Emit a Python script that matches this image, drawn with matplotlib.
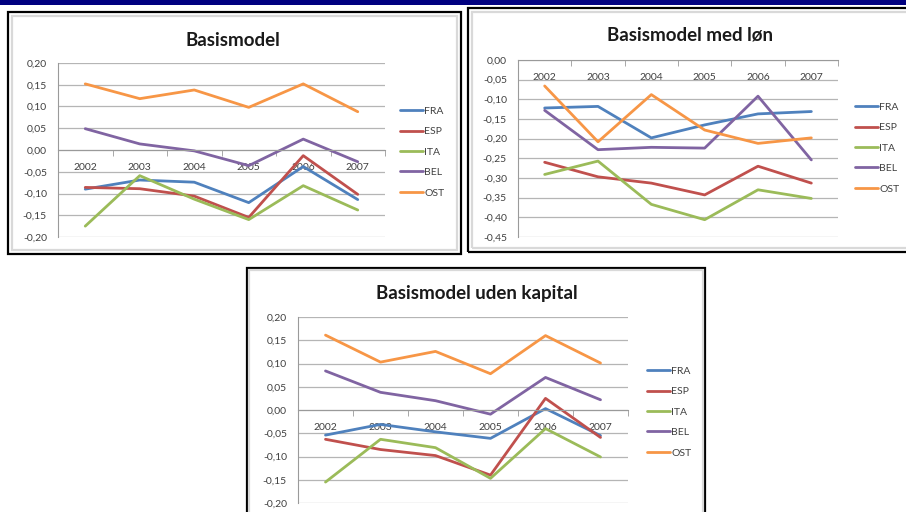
import matplotlib
matplotlib.use("Agg")
import matplotlib.pyplot as plt
from matplotlib.patches import Rectangle
from matplotlib.ticker import MultipleLocator, FuncFormatter

plt.rcParams["font.family"] = ["Lato", "DejaVu Sans"]

# Data
years = ["2002", "2003", "2004", "2005", "2006", "2007"]
countries = ["FRA", "ESP", "ITA", "BEL", "OST"]
colors = ["#4F81BD", "#C0504D", "#9BBB59", "#8064A2", "#F79646"]

basis_fra = [-0.090, -0.069, -0.074, -0.121, -0.038, -0.114]
basis_esp = [-0.086, -0.089, -0.106, -0.155, -0.013, -0.102]
basis_ita = [-0.175, -0.059, -0.113, -0.160, -0.082, -0.138]
basis_bel = [0.049, 0.014, -0.002, -0.036, 0.025, -0.027]
basis_ost = [0.152, 0.118, 0.138, 0.098, 0.152, 0.088]

lon_fra = [-0.122, -0.118, -0.198, -0.165, -0.137, -0.131]
lon_esp = [-0.260, -0.297, -0.313, -0.343, -0.270, -0.313]
lon_ita = [-0.291, -0.257, -0.367, -0.406, -0.330, -0.352]
lon_bel = [-0.128, -0.228, -0.222, -0.224, -0.092, -0.254]
lon_ost = [-0.066, -0.208, -0.088, -0.178, -0.212, -0.198]

kap_fra = [-0.054, -0.031, -0.047, -0.061, 0.003, -0.055]
kap_esp = [-0.063, -0.085, -0.098, -0.140, 0.025, -0.059]
kap_ita = [-0.155, -0.063, -0.081, -0.147, -0.040, -0.101]
kap_bel = [0.084, 0.038, 0.020, -0.009, 0.070, 0.022]
kap_ost = [0.161, 0.103, 0.126, 0.078, 0.160, 0.101]

W, H = 906, 512
fig = plt.figure(figsize=(W / 100, H / 100), dpi=100)


def box(x0, y0, x1, y1):
    # pixel box (top-left origin) -> figure fraction rect
    return [x0 / W, 1 - y1 / H, (x1 - x0) / W, (y1 - y0) / H]


def frame(x0, y0, x1, y1, gap=4):
    fig.add_artist(Rectangle((x0 / W, 1 - y1 / H), (x1 - x0) / W, (y1 - y0) / H,
                             transform=fig.transFigure, fill=False,
                             edgecolor="black", linewidth=1.6))
    fig.add_artist(Rectangle(((x0 + gap) / W, 1 - (y1 - gap) / H),
                             (x1 - x0 - 2 * gap) / W, (y1 - y0 - 2 * gap) / H,
                             transform=fig.transFigure, fill=False,
                             edgecolor="#d9d9d9", linewidth=1.6))


def chart(rect, series, title, ylim, title_xy, leg_xy):
    ax = fig.add_axes(box(*rect))
    x = list(range(len(years)))
    for vals, name, c in zip(series, countries, colors):
        ax.plot(x, vals, color=c, linewidth=2.0, label=name, solid_capstyle="round")
    ax.set_xlim(-0.5, len(years) - 0.5)
    ax.set_ylim(*ylim)
    ax.yaxis.set_major_locator(MultipleLocator(0.05))
    ax.yaxis.set_major_formatter(FuncFormatter(lambda v, p: f"{v:.2f}".replace(".", ",").replace("-0,00", "0,00")))
    ax.grid(axis="y", color="#b5b5b5", linewidth=0.9)
    ax.set_axisbelow(True)
    for s in ["top", "right"]:
        ax.spines[s].set_visible(False)
    ax.spines["left"].set_color("#9a9a9a")
    ax.spines["bottom"].set_position(("data", 0))
    ax.spines["bottom"].set_color("#9a9a9a")
    ax.set_xticks(x)
    ax.set_xticklabels(years)
    ax.set_xticks([i - 0.5 for i in range(len(years) + 1)], minor=True)
    ax.tick_params(axis="x", which="major", length=0, pad=9, labelsize=7.5, labelcolor="#404040")
    ax.tick_params(axis="x", which="minor", length=4, color="#9a9a9a", direction="out")
    ax.tick_params(axis="y", length=0, pad=8, labelsize=7.5, labelcolor="#404040")
    fig.text(title_xy[0] / W, 1 - title_xy[1] / H, title, ha="center", va="center",
             fontsize=13.5, fontweight="bold", color="#1a1a1a")
    fig.legend(*ax.get_legend_handles_labels(), loc="center left",
               bbox_to_anchor=(leg_xy[0] / W, 1 - leg_xy[1] / H),
               bbox_transform=fig.transFigure, frameon=False, fontsize=7.5,
               handlelength=2.2, handletextpad=0.15, labelspacing=1.07,
               borderpad=0, borderaxespad=0, labelcolor="#404040")
    return ax


# top banner
fig.add_artist(Rectangle((0, 1 - 5 / H), 1, 5 / H, transform=fig.transFigure,
                         color="#000080", linewidth=0))

frame(8, 12, 461, 254)
frame(468, 8, 912, 252)
frame(247, 268, 705, 530, gap=2)

chart((58, 63, 385, 237),
      [basis_fra, basis_esp, basis_ita, basis_bel, basis_ost],
      "Basismodel", (-0.2, 0.2), (233, 40), (400, 152))
chart((518, 60, 838, 237),
      [lon_fra, lon_esp, lon_ita, lon_bel, lon_ost],
      "Basismodel med løn", (-0.45, 0.0), (690, 35), (855, 148))
chart((298, 317, 628, 503),
      [kap_fra, kap_esp, kap_ita, kap_bel, kap_ost],
      "Basismodel uden kapital", (-0.2, 0.2), (477, 293), (647, 412))

fig.savefig("out.png", dpi=100)
